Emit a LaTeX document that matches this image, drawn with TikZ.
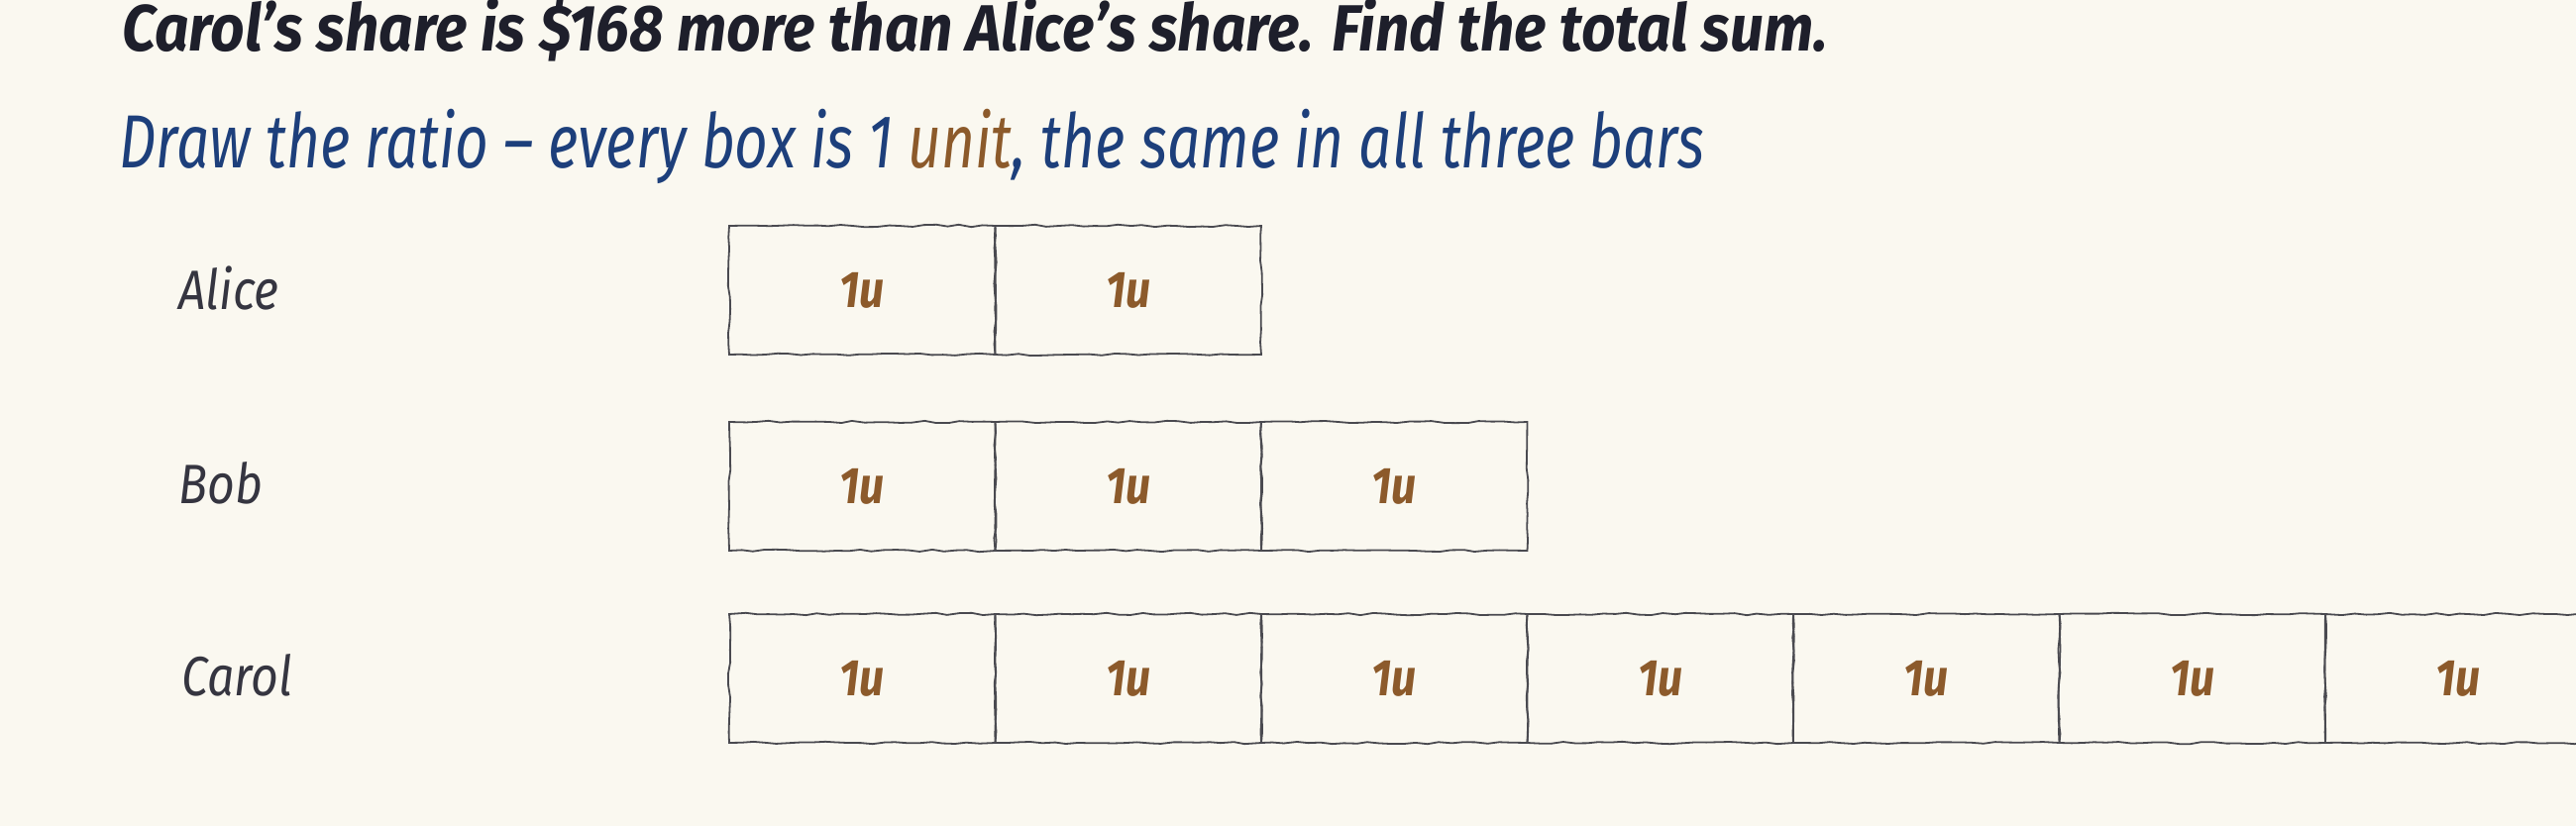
\documentclass[tikz,border=0pt]{standalone}
\usepackage{fontspec}
\setmainfont{Fira Sans}[FakeStretch=0.86]
\newfontfamily\questionfont{Fira Sans}[FakeStretch=0.915]
\newfontfamily\hintfont{Fira Sans}[FakeStretch=0.77]
\usetikzlibrary{decorations.pathmorphing}
\definecolor{paper}{HTML}{FAF8F0}
\definecolor{ink}{HTML}{1E1F2B}
\definecolor{penblue}{HTML}{1D3F7B}
\definecolor{unitbrown}{HTML}{8C5A2B}
\definecolor{boxgray}{HTML}{4A4A50}
\tikzset{
  unitbox/.style={draw=boxgray,line width=0.9pt,minimum width=134.25pt,minimum height=65pt,inner sep=0pt,
    decorate,decoration={random steps,segment length=6pt,amplitude=0.6pt},
    text=unitbrown,font=\fontsize{26}{26}\selectfont\bfseries\itshape},
  who/.style={anchor=base west,inner sep=0pt,text=ink!90,font=\fontsize{28}{28}\selectfont\itshape},
  line/.style={anchor=base west,inner sep=0pt}
}
\begin{document}
\begin{tikzpicture}[x=0.5pt,y=-0.5pt]
 \pgfmathsetseed{7}
 \useasboundingbox[fill=paper] (0,0) rectangle (2600,834);
 \clip (0,0) rectangle (2600,834);
 \node[line,text=ink,font=\fontsize{33}{33}\questionfont\bfseries\itshape] (question) at (123,52) {Carol’s share is \$168 more than Alice’s share. Find the total sum.};
 \node[line,text=penblue,font=\fontsize{38}{38}\hintfont\itshape] (hint) at (120,170) {Draw the ratio – every box is 1 \textcolor{unitbrown}{unit}, the same in all three bars};
 \node[who] (alice) at (180,312) {Alice};
 \node[who] (bob) at (180,508) {Bob};
 \node[who] (carol) at (183,702) {Carol};
 \foreach \i in {1,...,2} \node[unitbox] (alice\i) at ({736+268.5*(\i-0.5)},293) {1u};
 \foreach \i in {1,...,3} \node[unitbox] (bob\i) at ({736+268.5*(\i-0.5)},491) {1u};
 \foreach \i in {1,...,7} \node[unitbox] (carol\i) at ({736+268.5*(\i-0.5)},685) {1u};
\end{tikzpicture}
\end{document}
